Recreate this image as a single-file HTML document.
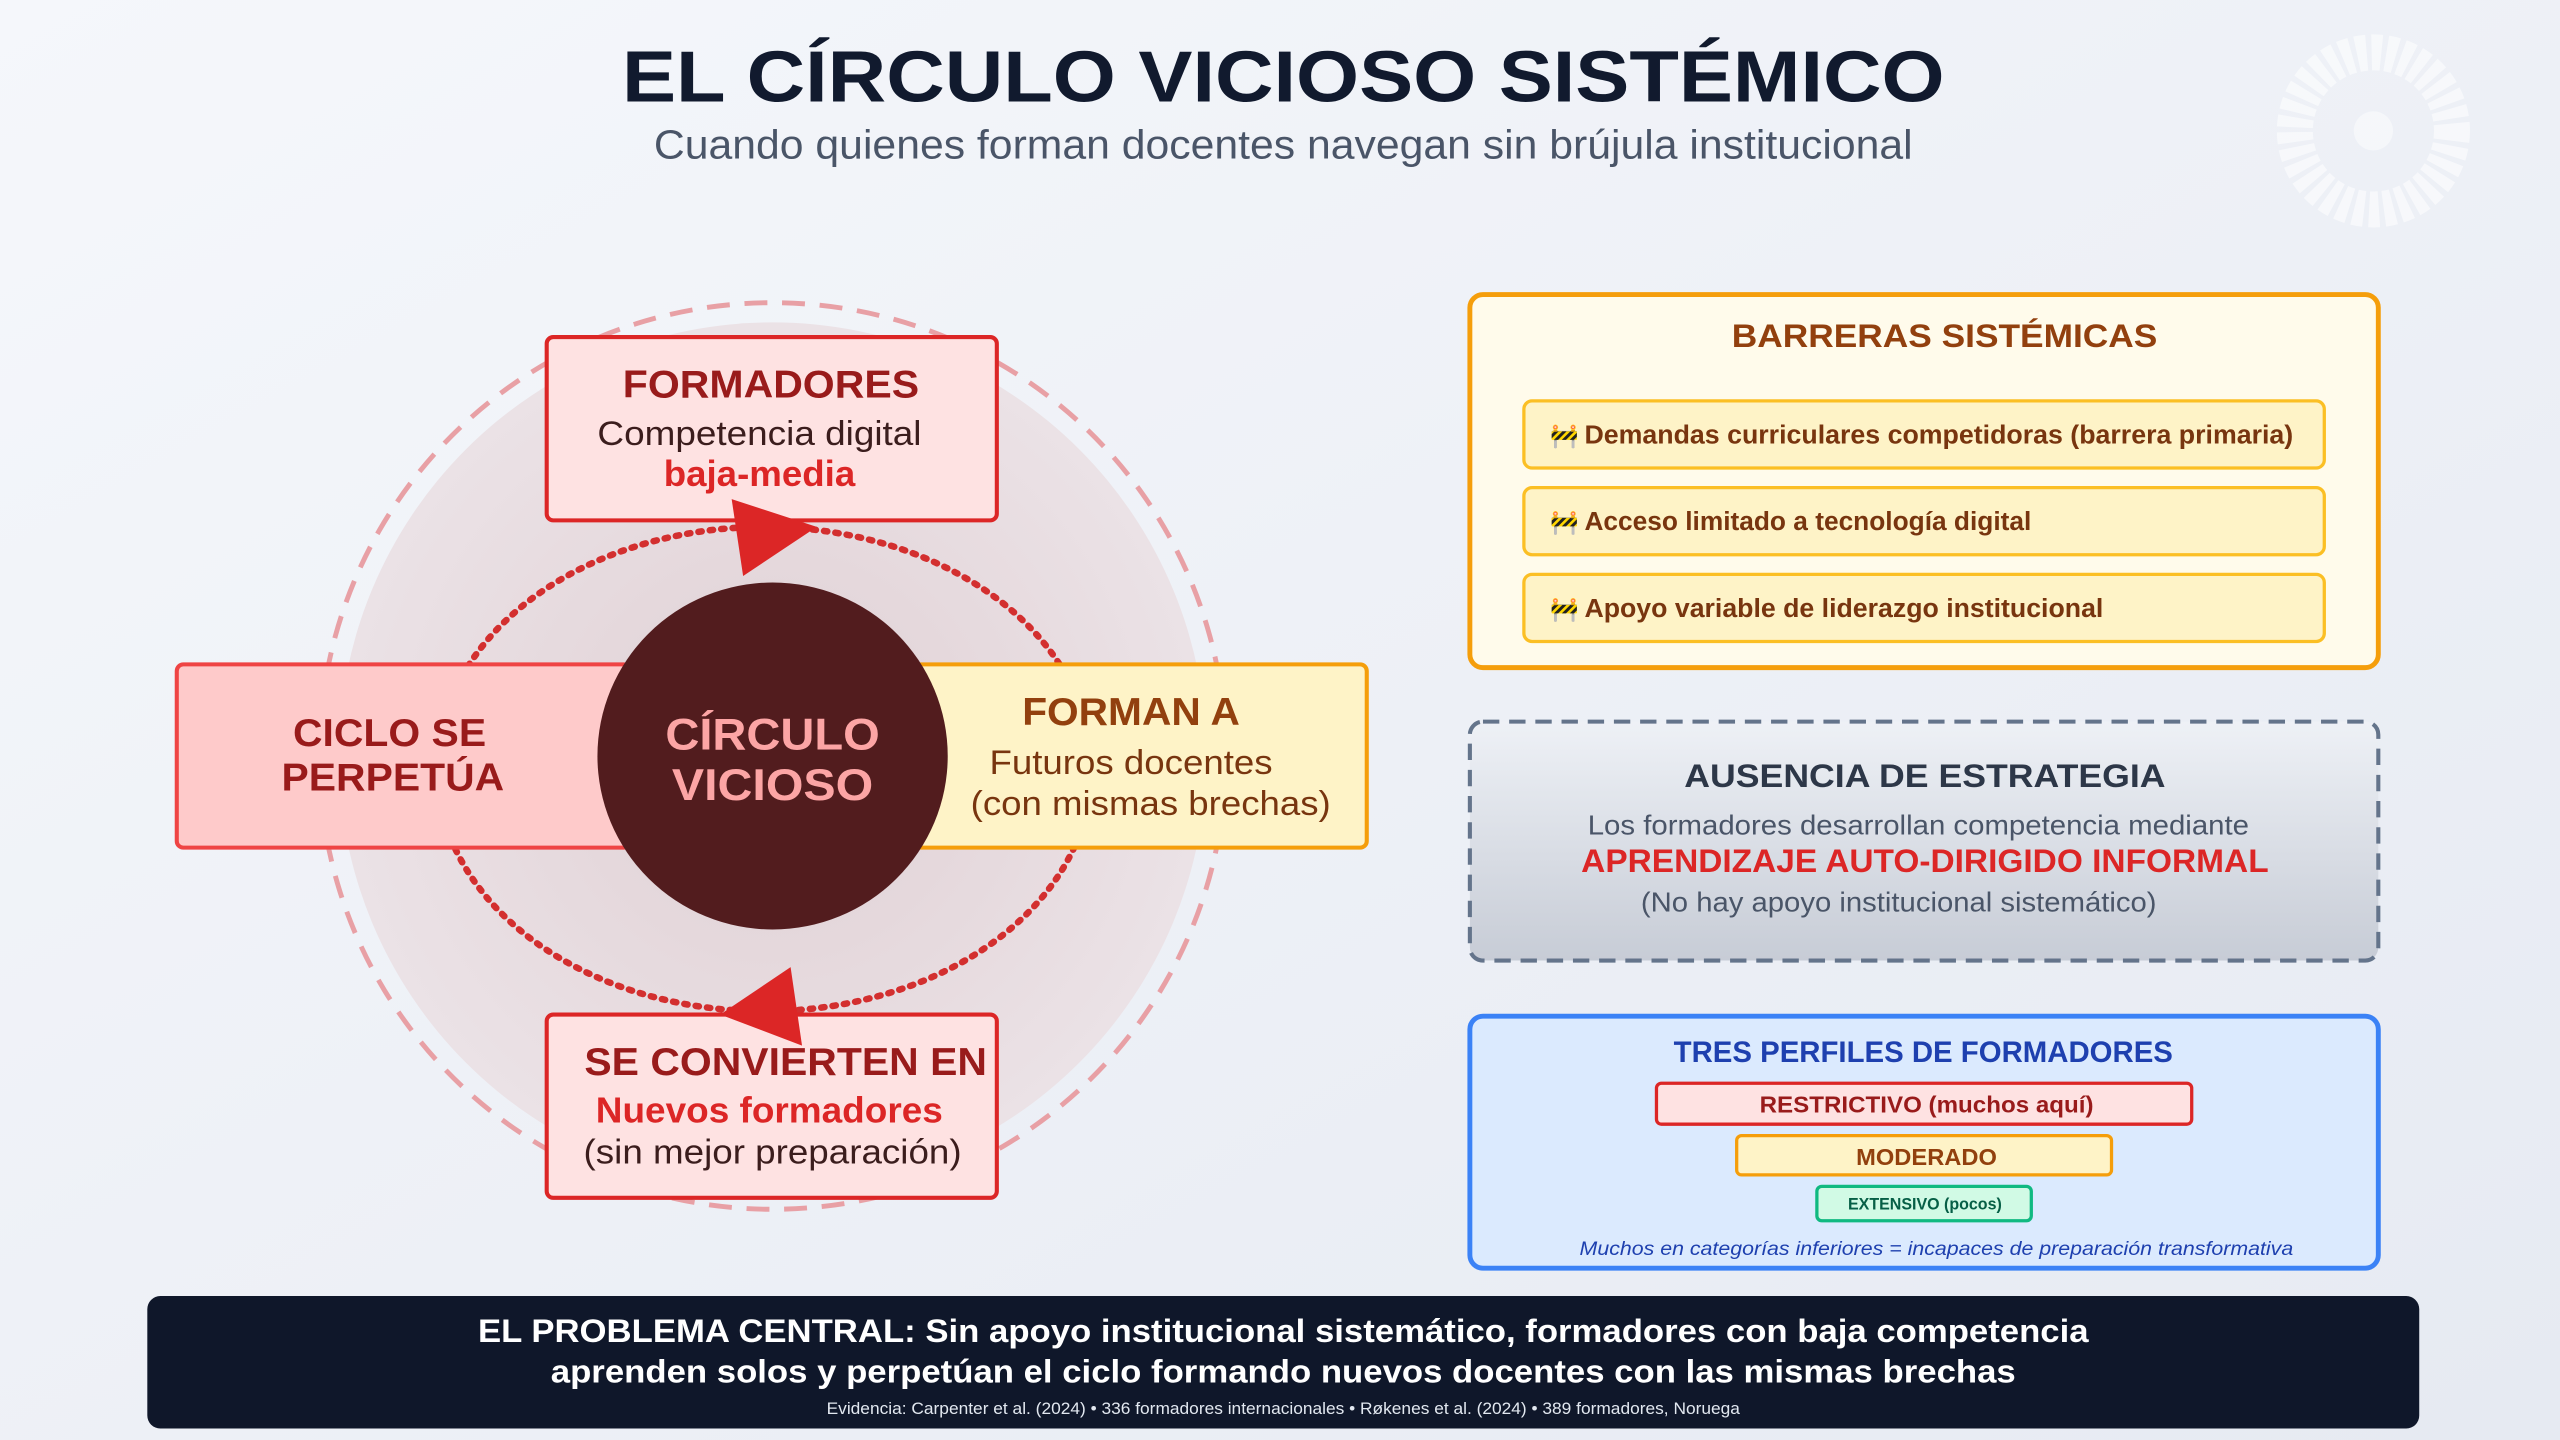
<!DOCTYPE html>
<html><head><meta charset="utf-8"><style>
html,body{margin:0;padding:0;width:2560px;height:1440px;overflow:hidden;background:#eef1f6}
svg{display:block}
text{font-family:"Liberation Sans",Arial,sans-serif}
</style></head><body>
<svg width="2560" height="1440" viewBox="0 0 1564 880" preserveAspectRatio="none" xmlns="http://www.w3.org/2000/svg">
<defs>
<linearGradient id="bg" x1="0" y1="0" x2="1" y2="1"><stop offset="0" stop-color="#f5f7fb"/><stop offset="1" stop-color="#e6eaf2"/></linearGradient>
<linearGradient id="aus" x1="0" y1="0" x2="0" y2="1"><stop offset="0" stop-color="#eef1f6"/><stop offset="1" stop-color="#c7ccd6"/></linearGradient>
<radialGradient id="disc" cx="0.5" cy="0.5" r="0.5"><stop offset="0" stop-color="#e0d0d4"/><stop offset="1" stop-color="#ebe2e6"/></radialGradient>
</defs>
<rect width="1564" height="880" fill="url(#bg)"/>
<circle cx="1450" cy="80" r="48" fill="none" stroke="#ffffff" stroke-width="22" opacity="0.55" stroke-dasharray="6,3"/>
<circle cx="1450" cy="80" r="12" fill="#ffffff" opacity="0.45"/>

<text x="784" y="62" text-anchor="middle" font-size="44" font-weight="bold" fill="#111a2e" textLength="808" lengthAdjust="spacingAndGlyphs">EL CÍRCULO VICIOSO SISTÉMICO</text>
<text x="784" y="97" text-anchor="middle" font-size="25" fill="#4a5568" textLength="769" lengthAdjust="spacingAndGlyphs">Cuando quienes forman docentes navegan sin brújula institucional</text>

<circle cx="472" cy="462" r="265" fill="url(#disc)"/>
<circle cx="472" cy="462" r="277" fill="none" stroke="#e8a0a5" stroke-width="3" stroke-dasharray="14,9"/>
<ellipse cx="467" cy="470" rx="200" ry="148" fill="none" stroke="#d32f2f" stroke-width="4" stroke-dasharray="2,5" stroke-linecap="round"/>

<rect x="334" y="206" width="275" height="112" rx="4" fill="#fee2e2" stroke="#dc2626" stroke-width="2.5"/>
<text x="471" y="243" text-anchor="middle" font-size="24" font-weight="bold" fill="#991b1b" textLength="181" lengthAdjust="spacingAndGlyphs">FORMADORES</text>
<text x="464" y="272" text-anchor="middle" font-size="21" fill="#3b1d1d" textLength="198" lengthAdjust="spacingAndGlyphs">Competencia digital</text>
<text x="464" y="297" text-anchor="middle" font-size="22" font-weight="bold" fill="#dc2626" textLength="117" lengthAdjust="spacingAndGlyphs">baja-media</text>

<rect x="108" y="406" width="277" height="112" rx="4" fill="#fecaca" stroke="#ef4444" stroke-width="2.5"/>
<text x="238" y="456" text-anchor="middle" font-size="24" font-weight="bold" fill="#991b1b" textLength="118" lengthAdjust="spacingAndGlyphs">CICLO SE</text>
<text x="240" y="483" text-anchor="middle" font-size="24" font-weight="bold" fill="#991b1b" textLength="136" lengthAdjust="spacingAndGlyphs">PERPETÚA</text>

<rect x="557" y="406" width="278" height="112" rx="4" fill="#fef3c7" stroke="#f59e0b" stroke-width="2.5"/>
<text x="691" y="443" text-anchor="middle" font-size="24" font-weight="bold" fill="#92400e" textLength="133" lengthAdjust="spacingAndGlyphs">FORMAN A</text>
<text x="691" y="473" text-anchor="middle" font-size="21" fill="#78350f" textLength="173" lengthAdjust="spacingAndGlyphs">Futuros docentes</text>
<text x="703" y="498" text-anchor="middle" font-size="21" fill="#78350f" textLength="220" lengthAdjust="spacingAndGlyphs">(con mismas brechas)</text>

<ellipse cx="472" cy="462" rx="107" ry="106" fill="#521c1e"/>
<text x="472" y="458" text-anchor="middle" font-size="27" font-weight="bold" fill="#fca5a5" textLength="131" lengthAdjust="spacingAndGlyphs">CÍRCULO</text>
<text x="472" y="489" text-anchor="middle" font-size="27" font-weight="bold" fill="#fca5a5" textLength="123" lengthAdjust="spacingAndGlyphs">VICIOSO</text>

<rect x="334" y="620" width="275" height="112" rx="4" fill="#fee2e2" stroke="#dc2626" stroke-width="2.5"/>
<text x="480" y="657" text-anchor="middle" font-size="24" font-weight="bold" fill="#991b1b" textLength="246" lengthAdjust="spacingAndGlyphs">SE CONVIERTEN EN</text>
<text x="470" y="686" text-anchor="middle" font-size="22" font-weight="bold" fill="#dc2626" textLength="212" lengthAdjust="spacingAndGlyphs">Nuevos formadores</text>
<text x="472" y="711" text-anchor="middle" font-size="21" fill="#3b1d1d" textLength="231" lengthAdjust="spacingAndGlyphs">(sin mejor preparación)</text>

<polygon points="447,305 499,322 454,352" fill="#dc2626"/>
<polygon points="490,639 440,620 483,591" fill="#dc2626"/>

<rect x="898" y="180" width="555" height="228" rx="8" fill="#fffbeb" stroke="#f59e0b" stroke-width="3"/>
<text x="1188" y="212" text-anchor="middle" font-size="20" font-weight="bold" fill="#92400e" textLength="260" lengthAdjust="spacingAndGlyphs">BARRERAS SISTÉMICAS</text>
<rect x="931" y="245" width="489" height="41" rx="5" fill="#fef3c7" stroke="#fbbf24" stroke-width="2"/>
<rect x="931" y="298" width="489" height="41" rx="5" fill="#fef3c7" stroke="#fbbf24" stroke-width="2"/>
<rect x="931" y="351" width="489" height="41" rx="5" fill="#fef3c7" stroke="#fbbf24" stroke-width="2"/>
<text x="947" y="271" font-size="14">🚧</text>
<text x="947" y="324" font-size="14">🚧</text>
<text x="947" y="377" font-size="14">🚧</text>
<text x="968" y="271" font-size="16" font-weight="bold" fill="#78350f" textLength="433" lengthAdjust="spacingAndGlyphs">Demandas curriculares competidoras (barrera primaria)</text>
<text x="968" y="324" font-size="16" font-weight="bold" fill="#78350f" textLength="273" lengthAdjust="spacingAndGlyphs">Acceso limitado a tecnología digital</text>
<text x="968" y="377" font-size="16" font-weight="bold" fill="#78350f" textLength="317" lengthAdjust="spacingAndGlyphs">Apoyo variable de liderazgo institucional</text>

<rect x="898" y="441" width="555" height="146" rx="8" fill="url(#aus)" stroke="#64748b" stroke-width="2.5" stroke-dasharray="10,6"/>
<text x="1176" y="481" text-anchor="middle" font-size="20" font-weight="bold" fill="#2d3748" textLength="294" lengthAdjust="spacingAndGlyphs">AUSENCIA DE ESTRATEGIA</text>
<text x="1172" y="510" text-anchor="middle" font-size="17" fill="#4a5568" textLength="404" lengthAdjust="spacingAndGlyphs">Los formadores desarrollan competencia mediante</text>
<text x="1176" y="533" text-anchor="middle" font-size="20" font-weight="bold" fill="#dc2626" textLength="420" lengthAdjust="spacingAndGlyphs">APRENDIZAJE AUTO-DIRIGIDO INFORMAL</text>
<text x="1160" y="557" text-anchor="middle" font-size="17" fill="#4a5568" textLength="315" lengthAdjust="spacingAndGlyphs">(No hay apoyo institucional sistemático)</text>

<rect x="898" y="621" width="555" height="154" rx="8" fill="#dbeafe" stroke="#3b82f6" stroke-width="3"/>
<text x="1175" y="649" text-anchor="middle" font-size="18" font-weight="bold" fill="#1e40af" textLength="305" lengthAdjust="spacingAndGlyphs">TRES PERFILES DE FORMADORES</text>
<rect x="1012" y="662" width="327" height="25" rx="3" fill="#fee2e2" stroke="#dc2626" stroke-width="2"/>
<text x="1177" y="680" text-anchor="middle" font-size="14" font-weight="bold" fill="#991b1b" textLength="204" lengthAdjust="spacingAndGlyphs">RESTRICTIVO (muchos aquí)</text>
<rect x="1061" y="694" width="229" height="24" rx="3" fill="#fef3c7" stroke="#f59e0b" stroke-width="2"/>
<text x="1177" y="712" text-anchor="middle" font-size="14" font-weight="bold" fill="#92400e" textLength="86" lengthAdjust="spacingAndGlyphs">MODERADO</text>
<rect x="1110" y="725" width="131" height="21" rx="3" fill="#d1fae5" stroke="#10b981" stroke-width="2"/>
<text x="1176" y="739" text-anchor="middle" font-size="10" font-weight="bold" fill="#065f46" textLength="94" lengthAdjust="spacingAndGlyphs">EXTENSIVO (pocos)</text>
<text x="1183" y="767" text-anchor="middle" font-size="12" font-style="italic" fill="#1e40af" textLength="436" lengthAdjust="spacingAndGlyphs">Muchos en categorías inferiores = incapaces de preparación transformativa</text>

<rect x="90" y="792" width="1388" height="81" rx="8" fill="#0f172a"/>
<text x="784" y="820" text-anchor="middle" font-size="20" font-weight="bold" fill="#ffffff" textLength="984" lengthAdjust="spacingAndGlyphs">EL PROBLEMA CENTRAL: Sin apoyo institucional sistemático, formadores con baja competencia</text>
<text x="784" y="845" text-anchor="middle" font-size="20" font-weight="bold" fill="#ffffff" textLength="895" lengthAdjust="spacingAndGlyphs">aprenden solos y perpetúan el ciclo formando nuevos docentes con las mismas brechas</text>
<text x="784" y="864" text-anchor="middle" font-size="10" fill="#e2e8f0" textLength="558" lengthAdjust="spacingAndGlyphs">Evidencia: Carpenter et al. (2024) • 336 formadores internacionales • Røkenes et al. (2024) • 389 formadores, Noruega</text>
</svg>
</body></html>
